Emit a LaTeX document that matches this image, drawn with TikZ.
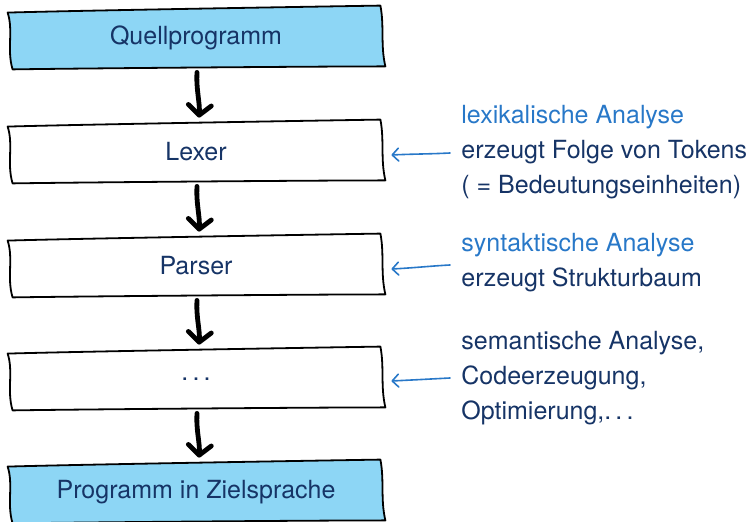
\documentclass[tikz,border=0pt]{standalone}
\usepackage{fontspec}
\setmainfont{TeX Gyre Heros}
\usetikzlibrary{arrows.meta}
\definecolor{boxfill}{RGB}{141,214,245}
\definecolor{navy}{RGB}{22,52,102}
\definecolor{hlblue}{RGB}{40,120,200}
\pgfdeclarelayer{background}
\pgfsetlayers{background,main}
\newcommand\sketchbox[2]{%
  \draw[line width=0.9pt, fill=#2, line join=round]
   ([shift={(-2,4)}]#1.north west)
   .. controls ([shift={(-120,2)}]#1.north) and ([shift={(120,-2)}]#1.north) .. ([shift={(-2,-3)}]#1.north east)
   .. controls ([shift={(2,-12)}]#1.east) and ([shift={(-2,8)}]#1.east) .. ([shift={(3,-1)}]#1.south east)
   .. controls ([shift={(120,-1)}]#1.south) and ([shift={(-120,1)}]#1.south) .. ([shift={(3,2)}]#1.south west)
   .. controls ([shift={(-3,12)}]#1.west) and ([shift={(4,-8)}]#1.west) .. cycle;
}
\begin{document}
\begin{tikzpicture}[x=0.5pt,y=-0.5pt,
  font=\fontsize{12.5}{17.5}\selectfont,
  stage/.style={minimum width=186pt, minimum height=29pt, inner sep=0pt, text=navy},
  note/.style={anchor=west, align=left, inner sep=0pt, text=navy},
  flowarrow/.style={line width=2.4pt, line cap=round, -{Straight Barb[length=5pt,width=11.5pt,round]}},
  notearrow/.style={line width=0.8pt, hlblue, line cap=round, -{Straight Barb[length=3.2pt,width=6.5pt,round]}}]
\useasboundingbox (0,0) rectangle (749,522);

\node[stage] (q) at (196,38) {Quellprogramm};
\node[stage] (l) at (196,152) {Lexer};
\node[stage] (p) at (196,266) {Parser};
\node[stage] (s) at (196,379) {.\,.\,.};
\node[stage] (z) at (196,492) {Programm in Zielsprache};

\begin{pgfonlayer}{background}
\sketchbox{q}{boxfill}
\sketchbox{l}{white}
\sketchbox{p}{white}
\sketchbox{s}{white}
\sketchbox{z}{boxfill}
\end{pgfonlayer}

\draw[flowarrow] ([shift={(1,5)}]q.south) .. controls ([shift={(0,22)}]q.south) and ([shift={(4,-20)}]l.north) .. ([shift={(3,-5)}]l.north);
\draw[flowarrow] ([shift={(1,5)}]l.south) .. controls ([shift={(0,22)}]l.south) and ([shift={(4,-20)}]p.north) .. ([shift={(3,-5)}]p.north);
\draw[flowarrow] ([shift={(1,5)}]p.south) .. controls ([shift={(0,22)}]p.south) and ([shift={(4,-20)}]s.north) .. ([shift={(3,-5)}]s.north);
\draw[flowarrow] ([shift={(1,5)}]s.south) .. controls ([shift={(0,22)}]s.south) and ([shift={(4,-20)}]z.north) .. ([shift={(3,-5)}]z.north);

\node[note] (n1) at (461,152) {\textcolor{hlblue}{lexikalische Analyse}\\erzeugt Folge von Tokens\\( = Bedeutungseinheiten)};
\node[note] (n2) at (461,263) {\textcolor{hlblue}{syntaktische Analyse}\\erzeugt Strukturbaum};
\node[note] (n3) at (461,378) {semantische Analyse,\\Codeerzeugung,\\Optimierung,.\,.\,.};

\draw[notearrow] ([shift={(-11,1)}]n1.west) .. controls ([shift={(-30,2)}]n1.west) and ([shift={(30,2)}]l.east) .. ([shift={(9,3)}]l.east);
\draw[notearrow] ([shift={(-11,2)}]n2.west) .. controls ([shift={(-30,3)}]n2.west) and ([shift={(30,2)}]p.east) .. ([shift={(9,3)}]p.east);
\draw[notearrow] ([shift={(-11,0)}]n3.west) .. controls ([shift={(-30,1)}]n3.west) and ([shift={(30,1)}]s.east) .. ([shift={(9,2)}]s.east);
\end{tikzpicture}
\end{document}
